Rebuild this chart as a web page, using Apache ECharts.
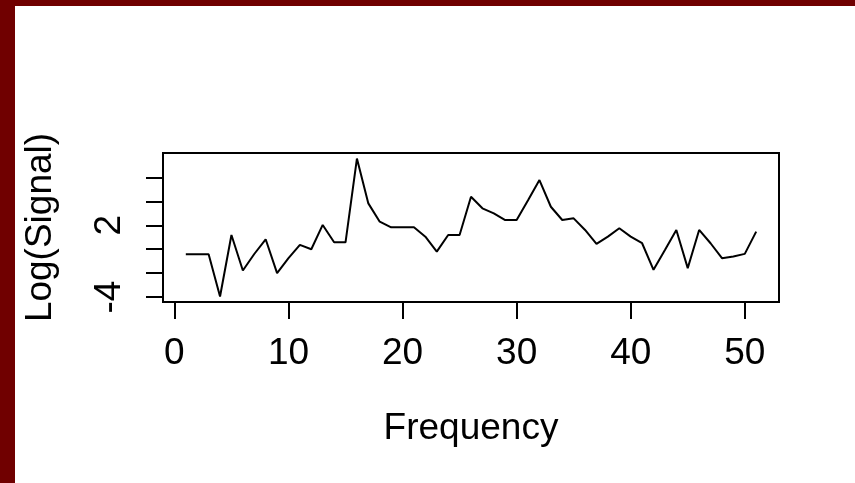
<!DOCTYPE html>
<html>
<head>
<meta charset="utf-8">
<script src="https://cdn.jsdelivr.net/npm/echarts@6/dist/echarts.min.js"></script>
<style>
  html, body { margin: 0; padding: 0; }
  body { width: 855px; height: 483px; background: #700000; position: relative; overflow: hidden; }
  #main { position: absolute; left: 15px; top: 6px; width: 840px; height: 477px; background: #fff; }
</style>
</head>
<body>
<div id="main"></div>
<script>
// frequency index and log signal
const freq = [1, 2, 3, 4, 5, 6, 7, 8, 9, 10, 11, 12, 13, 14, 15, 16, 17, 18, 19, 20,
  21, 22, 23, 24, 25, 26, 27, 28, 29, 30, 31, 32, 33, 34, 35, 36, 37, 38, 39, 40,
  41, 42, 43, 44, 45, 46, 47, 48, 49, 50, 51];
const logSignal = [-0.42, -0.42, -0.42, -3.95, 1.19, -1.78, -0.4, 0.83, -2.0, -0.75,
  0.36, 0.0, 2.03, 0.58, 0.58, 7.58, 3.83, 2.3, 1.83, 1.83,
  1.83, 1.05, -0.2, 1.19, 1.19, 4.38, 3.42, 3.0, 2.44, 2.44,
  4.1, 5.78, 3.55, 2.44, 2.58, 1.61, 0.44, 1.05, 1.75, 1.05,
  0.5, -1.72, -0.06, 1.61, -1.58, 1.61, 0.5, -0.75, -0.61, -0.39, 1.47];

const xTicks = [0, 10, 20, 30, 40, 50];
const yTicks = [-4, -2, 0, 2, 4, 6];
const yLabels = [-4, 2]; // the other labels are dropped in the original (overlap)

// R style 4% padding of the data range
const pad = (lo, hi) => [lo - 0.04 * (hi - lo), hi + 0.04 * (hi - lo)];
const xr = pad(Math.min(...freq), Math.max(...freq));
const yr = pad(Math.min(...logSignal), Math.max(...logSignal));

const font = '"Liberation Sans", Arial, sans-serif';

let chart = echarts.init(document.getElementById('main'));
let option = {
  animation: false,
  backgroundColor: '#fff',
  grid: {
    left: 148, right: 76, top: 147, bottom: 181,
    show: true, borderColor: '#000', borderWidth: 2,
    outerBoundsMode: 'none'
  },
  xAxis: {
    type: 'value',
    min: xr[0], max: xr[1],
    name: 'Frequency',
    nameLocation: 'middle',
    nameGap: 108,
    nameTextStyle: { fontFamily: font, fontSize: 37, color: '#000' },
    axisLine: { show: false, onZero: false },
    splitLine: { show: false },
    axisTick: { show: true, length: 17, lineStyle: { color: '#000', width: 2 }, customValues: xTicks },
    axisLabel: { fontFamily: font, fontSize: 37, color: '#000', margin: 33, customValues: xTicks }
  },
  yAxis: {
    type: 'value',
    min: yr[0], max: yr[1],
    name: 'Log(Signal)',
    nameLocation: 'middle',
    nameGap: 104,
    nameTextStyle: { fontFamily: font, fontSize: 37, color: '#000' },
    axisLine: { show: false, onZero: false },
    splitLine: { show: false },
    axisTick: { show: true, length: 17, lineStyle: { color: '#000', width: 2 }, customValues: yTicks },
    axisLabel: { fontFamily: font, fontSize: 37, color: '#000', margin: 35, rotate: 90, customValues: yLabels }
  },
  series: [{
    type: 'line',
    data: freq.map((f, i) => [f, logSignal[i]]),
    showSymbol: false,
    lineStyle: { color: '#000', width: 2 }
  }]
};
chart.setOption(option);
</script>
</body>
</html>
